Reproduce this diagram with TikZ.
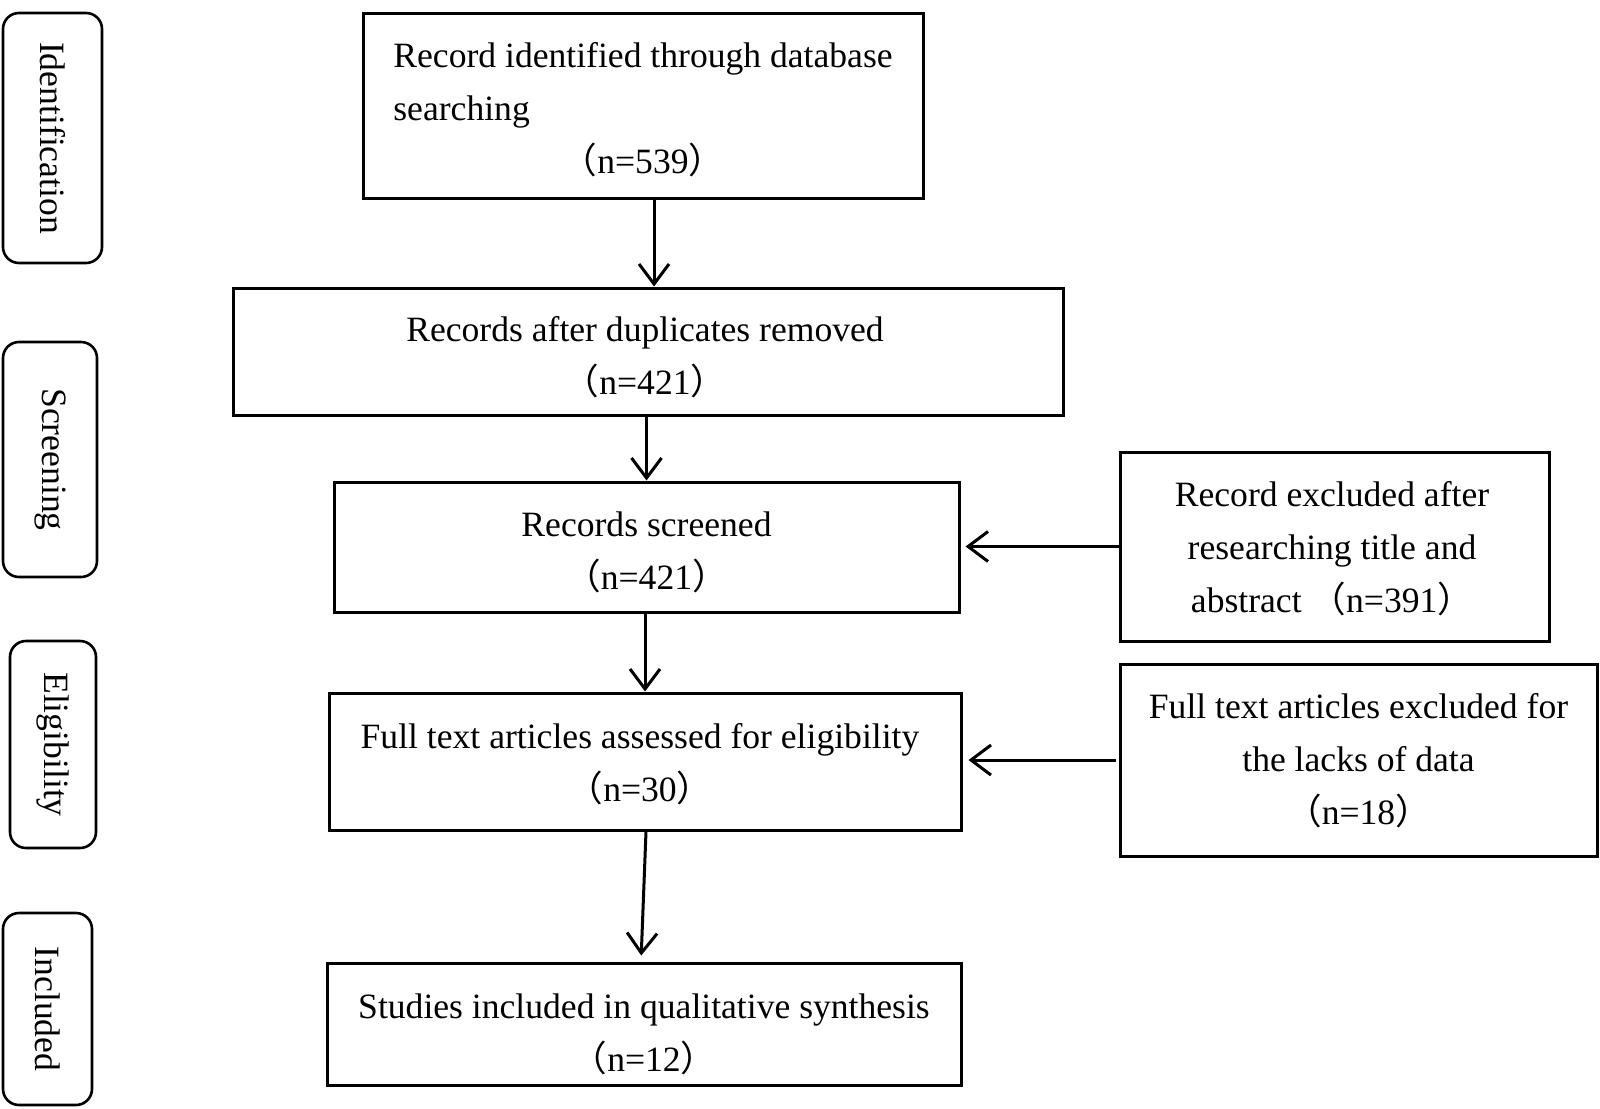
\documentclass[tikz,border=0pt]{standalone}
\usepackage{fontspec}
\usepackage{calc}
\setmainfont{Liberation Serif}
\newfontfamily\cjkfont{Noto Sans CJK SC}
\newcommand{\lpar}{{\cjkfont （}}
\newcommand{\rpar}{{\cjkfont ）}}
\usetikzlibrary{arrows.meta}
\begin{document}
\begin{tikzpicture}[x=0.5pt,y=-0.5pt,
  every node/.style={font=\fontsize{17.8pt}{26.5pt}\selectfont},
  box/.style={draw, line width=1.5pt, inner sep=0pt},
  txt/.style={inner sep=0pt, align=center},
  stage/.style={draw, line width=1.3pt, rounded corners=8pt, inner sep=0pt, rotate=-90},
  arr/.style={line width=1.5pt, -{Straight Barb[length=10pt,width=15pt,line width=1.5pt]}}
]
\useasboundingbox[fill=white] (0,0) rectangle (1600,1108);

% stage labels
\node[stage, minimum width=125pt, minimum height=49.5pt] (sid) at (52.5,138) {Identification};
\node[stage, minimum width=117.5pt, minimum height=47pt] (ssc) at (50,459.5) {Screening};
\node[stage, minimum width=103.5pt, minimum height=43pt] (sel) at (53,744.5) {Eligibility};
\node[stage, minimum width=96pt, minimum height=44.5pt] (sin) at (47.5,1009) {Included};

% main boxes
\node[box, minimum width=280pt, minimum height=92.5pt] (b1) at (643,105.5) {};
\node[box, minimum width=415pt, minimum height=63.5pt] (b2) at (648,351.5) {};
\node[box, minimum width=312.5pt, minimum height=65pt] (b3) at (646.5,547) {};
\node[box, minimum width=316pt, minimum height=68.5pt] (b4) at (645,761.5) {};
\node[box, minimum width=317pt, minimum height=61pt] (b5) at (644,1024) {};
% exclusion boxes
\node[box, minimum width=214.5pt, minimum height=94.5pt] (r1) at (1334.5,546.5) {};
\node[box, minimum width=238.5pt, minimum height=96pt] (r2) at (1358.5,760) {};

% texts
\node[txt, align=left] (t1) at (643,110)
  {Record identified through database\\searching\\\makebox[\widthof{Record identified through database}]{\lpar n=539\rpar}};
\node[txt] (t2) at (645,357) {Records after duplicates removed\\\lpar n=421\rpar};
\node[txt] (t3) at (646.5,552) {Records screened\\\lpar n=421\rpar};
\node[txt] (t4) at (640,764) {Full text articles assessed for eligibility\\\lpar n=30\rpar};
\node[txt] (t5) at (644,1034) {Studies included in qualitative synthesis\\\lpar n=12\rpar};
\node[txt] (t6) at (1332,548.5) {Record excluded after\\researching title and\\abstract \lpar n=391\rpar};
\node[txt] (t7) at (1358.5,761) {Full text articles excluded for\\the lacks of data\\\lpar n=18\rpar};

% connectors
\draw[arr] ([xshift=5.5pt]b1.south) -- ([xshift=3pt]b2.north);
\draw[arr] (b2.south -| b3.north) -- (b3.north);
\draw[arr] (b3.south -| b4.north) -- (b4.north);
\draw[arr, shorten >=3pt] ([xshift=0.5pt]b4.south) -- ([xshift=-1.5pt]b5.north);
\draw[arr, shorten >=2.5pt] (r1.west) -- (r1.west -| b3.east);
\draw[arr, shorten >=3pt] ([xshift=-1.5pt]r2.west) -- (r2.west -| b4.east);
\end{tikzpicture}
\end{document}
